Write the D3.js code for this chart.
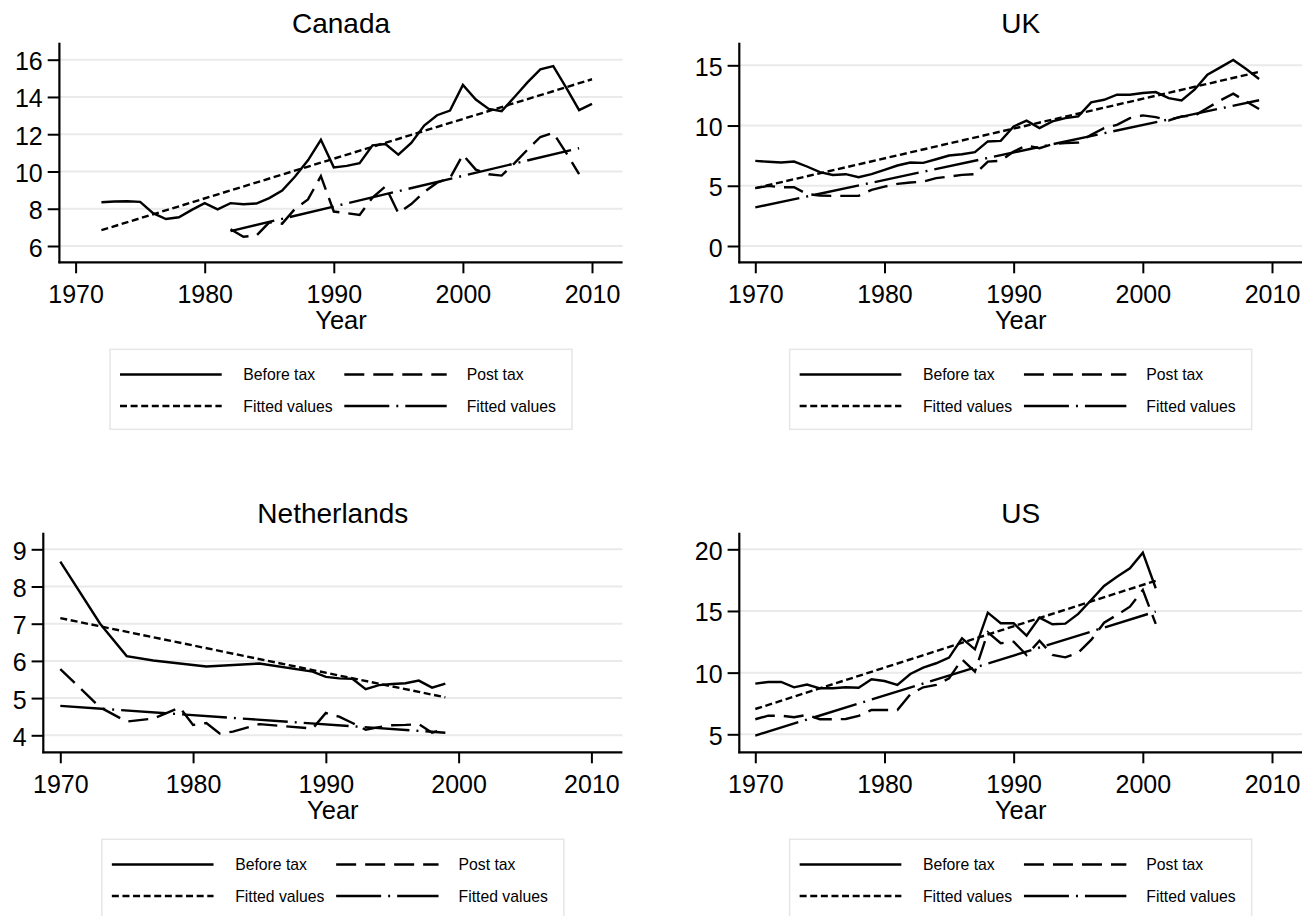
<!DOCTYPE html>
<html><head><meta charset="utf-8">
<script src="https://cdn.jsdelivr.net/npm/d3@7"></script>
<style>body{margin:0;background:#fff} svg{display:block}</style>
</head><body><svg id="c" width="1306" height="916"></svg>
<script>
// ---------- DATA ----------
const xTickYears = [1970, 1980, 1990, 2000, 2010];
const legendLabels = ["Before tax", "Post tax", "Fitted values", "Fitted values"];

// Canada
const caYears = [1972,1973,1974,1975,1976,1977,1978,1979,1980,1981,1982,1983,1984,1985,1986,1987,1988,1989,1990,1991,1992,1993,1994,1995,1996,1997,1998,1999,2000,2001,2002,2003,2004,2005,2006,2007,2008,2009,2010];
const caBefore = [8.35,8.39,8.40,8.37,7.76,7.45,7.54,7.94,8.30,7.97,8.30,8.24,8.28,8.57,8.98,9.73,10.60,11.70,10.22,10.30,10.45,11.40,11.47,10.90,11.53,12.46,13.02,13.27,14.65,13.86,13.36,13.24,14.00,14.78,15.48,15.66,14.50,13.29,13.63];
const caPostYears = [1982,1983,1984,1985,1986,1987,1988,1989,1990,1991,1992,1993,1994,1995,1996,1997,1998,1999,2000,2001,2002,2003,2004,2005,2006,2007,2008,2009];
const caPost = [6.90,6.50,6.55,7.27,7.20,8.00,8.50,9.75,7.85,7.76,7.67,8.60,9.20,7.76,8.25,8.90,9.40,9.64,10.90,10.10,9.85,9.78,10.45,11.17,11.85,12.07,11.00,9.86];
const caFitBeforeYears = [1972, 2010];
const caFitBefore = [6.85, 14.95];
const caFitPostYears = [1982, 2009];
const caFitPost = [6.80, 11.25];
const caYTicks = [6, 8, 10, 12, 14, 16];

// UK
const ukYears = [1970,1971,1972,1973,1974,1975,1976,1977,1978,1979,1980,1981,1982,1983,1984,1985,1986,1987,1988,1989,1990,1991,1992,1993,1994,1995,1996,1997,1998,1999,2000,2001,2002,2003,2004,2005,2006,2007,2008,2009];
const ukBefore = [7.07,6.99,6.93,7.01,6.60,6.13,5.90,5.96,5.71,5.96,6.32,6.68,6.93,6.90,7.20,7.51,7.62,7.79,8.68,8.73,9.93,10.40,9.79,10.34,10.62,10.76,11.92,12.14,12.56,12.56,12.70,12.78,12.28,12.09,12.97,14.22,14.83,15.44,14.69,13.86];
const ukPost = [4.80,4.99,4.88,4.88,4.32,4.19,4.16,4.16,4.16,4.66,4.93,5.16,5.27,5.35,5.63,5.77,5.90,5.96,7.01,7.07,7.85,8.34,8.12,8.46,8.54,8.59,9.23,9.79,10.06,10.62,10.84,10.70,10.42,10.76,10.81,11.45,12.09,12.64,12.00,11.37];
const ukFitYears = [1970, 2009];
const ukFitBefore = [4.80, 14.45];
const ukFitPost = [3.20, 12.10];
const ukYTicks = [0, 5, 10, 15];

// Netherlands
const nlYears = [1970,1973,1975,1977,1981,1985,1989,1990,1991,1992,1993,1994,1995,1996,1997,1998,1999];
const nlBefore = [8.67,7.00,6.13,6.01,5.85,5.93,5.71,5.57,5.53,5.52,5.24,5.35,5.38,5.40,5.47,5.28,5.39];
const nlPostYears = [1970,1973,1975,1977,1979,1980,1981,1982,1983,1985,1989,1990,1991,1992,1993,1994,1995,1996,1997,1998,1999];
const nlPost = [5.78,4.75,4.37,4.45,4.75,4.28,4.33,4.05,4.10,4.30,4.18,4.60,4.50,4.33,4.15,4.22,4.27,4.28,4.30,4.07,4.18];
const nlFitYears = [1970, 1999];
const nlFitBefore = [7.15, 5.02];
const nlFitPost = [4.79, 4.07];
const nlYTicks = [4, 5, 6, 7, 8, 9];

// US
const usYears = [1970,1971,1972,1973,1974,1975,1976,1977,1978,1979,1980,1981,1982,1983,1984,1985,1986,1987,1988,1989,1990,1991,1992,1993,1994,1995,1996,1997,1998,1999,2000,2001];
const usBefore = [9.11,9.24,9.24,8.81,9.03,8.73,8.73,8.81,8.78,9.46,9.32,9.00,9.89,10.41,10.76,11.22,12.78,11.89,14.86,14.00,14.00,13.00,14.46,13.92,13.97,14.76,15.89,17.03,17.78,18.46,19.73,16.84];
const usPost = [6.22,6.51,6.51,6.38,6.57,6.22,6.22,6.24,6.49,6.97,6.97,6.97,8.24,8.81,9.00,9.54,11.08,10.08,13.27,12.38,12.51,11.43,12.59,11.43,11.24,11.62,12.65,14.05,14.68,15.35,16.70,13.95];
const usFitYears = [1970, 2001];
const usFitBefore = [7.05, 17.45];
const usFitPost = [4.90, 14.95];
const usYTicks = [5, 10, 15, 20];

// ---------- DRAWING ----------
const FONT = "'Liberation Sans', Arial, Helvetica, sans-serif";
const svg = d3.select('#c');
const styles = [
  {dash: null},
  {dash: '20,9'},
  {dash: '7,3.6'},
  {dash: '45,7,2,7'}
];
const LW = 2.4;
const LEG_LW = 2.7;

const panels = [
  {title:'Canada', series:[[caYears,caBefore],[caPostYears,caPost],[caFitBeforeYears,caFitBefore],[caFitPostYears,caFitPost]],
   yTicks: caYTicks, left:59.4, right:622.6, top:42.7, bottom:262.3, x0:75.6, x1:592.0, yv:[6,16], yp:[246,59.7]},
  {title:'UK', series:[[ukYears,ukBefore],[ukYears,ukPost],[ukFitYears,ukFitBefore],[ukFitYears,ukFitPost]],
   yTicks: ukYTicks, left:739.3, right:1302, top:42.7, bottom:262.3, x0:755.3, x1:1272.0, yv:[0,15], yp:[246,65.3]},
  {title:'Netherlands', series:[[nlYears,nlBefore],[nlPostYears,nlPost],[nlFitYears,nlFitBefore],[nlFitYears,nlFitPost]],
   yTicks: nlYTicks, left:43.3, right:622.4, top:532.7, bottom:752.3, x0:60.3, x1:591.4, yv:[4,9], yp:[735.3,549.3]},
  {title:'US', series:[[usYears,usBefore],[usYears,usPost],[usFitYears,usFitBefore],[usFitYears,usFitPost]],
   yTicks: usYTicks, left:739.3, right:1302, top:532.7, bottom:752.3, x0:755.3, x1:1272.0, yv:[5,20], yp:[734.3,549.3]}
];

panels.forEach(p => {
  const g = svg.append('g');
  const x = d3.scaleLinear().domain([xTickYears[0], xTickYears[xTickYears.length-1]]).range([p.x0, p.x1]);
  const y = d3.scaleLinear().domain(p.yv).range(p.yp);
  const cx = (p.left + p.right) / 2;

  // gridlines
  g.append('g').selectAll('line').data(p.yTicks).join('line')
    .attr('x1', p.left).attr('x2', p.right)
    .attr('y1', d => y(d)).attr('y2', d => y(d))
    .attr('stroke', '#eaeaea').attr('stroke-width', 2);

  // series
  const line = d3.line().x(d => x(d[0])).y(d => y(d[1]));
  p.series.forEach((s, i) => {
    const pts = s[0].map((yr, k) => [yr, s[1][k]]);
    g.append('path').datum(pts)
      .attr('d', line)
      .attr('fill', 'none').attr('stroke', '#000').attr('stroke-width', LW)
      .attr('stroke-dasharray', styles[i].dash);
  });

  // y axis
  const ya = g.append('g').attr('transform', `translate(${p.left},0)`)
    .call(d3.axisLeft(y).tickValues(p.yTicks).tickSize(11.7).tickPadding(5).tickFormat(d3.format('d')));
  ya.select('.domain').remove();
  ya.selectAll('.tick line').attr('stroke', '#000').attr('stroke-width', 2);
  ya.selectAll('.tick text').attr('font-family', FONT).attr('font-size', 25).attr('fill', '#000').attr('dy', '0.4em');

  // x axis
  const xa = g.append('g').attr('transform', `translate(0,${p.bottom})`)
    .call(d3.axisBottom(x).tickValues(xTickYears).tickSize(11).tickPadding(11.7).tickFormat(d3.format('d')));
  xa.select('.domain').remove();
  xa.selectAll('.tick line').attr('stroke', '#000').attr('stroke-width', 2);
  xa.selectAll('.tick text').attr('font-family', FONT).attr('font-size', 25).attr('fill', '#000');

  // axis lines
  g.append('line').attr('x1', p.left).attr('x2', p.left).attr('y1', p.top).attr('y2', p.bottom + 1)
    .attr('stroke', '#000').attr('stroke-width', 2.2);
  g.append('line').attr('x1', p.left - 1).attr('x2', p.right).attr('y1', p.bottom).attr('y2', p.bottom)
    .attr('stroke', '#000').attr('stroke-width', 2.2);

  // title
  g.append('text').attr('x', cx).attr('y', p.top - 10).attr('text-anchor', 'middle')
    .attr('font-family', FONT).attr('font-size', 28).attr('fill', '#000').text(p.title);

  // x axis title
  g.append('text').attr('x', cx).attr('y', p.bottom + 67).attr('text-anchor', 'middle')
    .attr('font-family', FONT).attr('font-size', 25.5).attr('fill', '#000').text('Year');

  // legend
  const lt = p.bottom + 87;
  const lg = g.append('g');
  lg.append('rect').attr('x', cx - 231).attr('y', lt).attr('width', 462).attr('height', 80)
    .attr('fill', '#fff').attr('stroke', '#e6e6e6').attr('stroke-width', 1.5);
  const rows = [lt + 25.2, lt + 56.7];
  const cols = [{s0: cx - 221, s1: cx - 119.3, t: cx - 97.7}, {s0: cx + 3.3, s1: cx + 105.7, t: cx + 125.7}];
  legendLabels.forEach((lab, i) => {
    const r = rows[Math.floor(i / 2)], c = cols[i % 2];
    lg.append('line').attr('x1', c.s0).attr('x2', c.s1).attr('y1', r).attr('y2', r)
      .attr('stroke', '#000').attr('stroke-width', LEG_LW).attr('stroke-dasharray', styles[i].dash);
    lg.append('text').attr('x', c.t).attr('y', r).attr('dy', '0.35em')
      .attr('font-family', FONT).attr('font-size', 15.75).attr('fill', '#000').text(lab);
  });
});
</script>
</body></html>
